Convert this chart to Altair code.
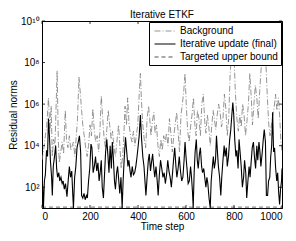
import altair as alt
import pandas as pd

# ---------------- data ----------------
bg_t = [0, 8, 14, 20, 27, 33, 38, 43, 48, 54, 63, 68, 72, 78, 84, 90, 97, 102, 108, 114,
        120, 126, 131, 137, 143, 148, 154, 160, 165, 170, 176, 182, 188, 194, 200, 206, 212,
        218, 224, 230, 236, 241, 247, 252, 258, 264, 270, 276, 282, 288, 294, 300, 306, 312,
        319, 325, 330, 336, 341, 346, 352, 357, 363, 369, 375, 381, 387, 393, 399, 405, 410,
        415, 420, 426, 432, 438, 444, 449, 454, 460, 466, 471, 477, 483, 489, 495, 501, 507,
        513, 519, 525, 531, 537, 543, 549, 555, 561, 567, 573, 579, 585, 591, 596, 601, 607,
        613, 619, 625, 631, 637, 642, 648, 654, 660, 666, 672, 678, 683, 689, 695, 701, 707,
        713, 718, 724, 730, 736, 742, 748, 754, 760, 766, 772, 778, 784, 790, 796, 801, 806,
        812, 818, 824, 830, 836, 842, 848, 854, 860, 866, 872, 877, 883, 889, 895, 901, 907,
        913, 918, 923, 929, 934, 939, 945, 950, 956, 962, 968, 973, 979, 985, 990, 995, 1000]
bg_v = [2e3, 8e3, 3e4, 1e5, 2e6, 5e4, 8e5, 3e3, 2e4, 1e4, 4e7, 2e4, 1.5e3, 5e3, 1.5e4, 4e3,
        5e5, 2e4, 8e3, 3e4, 6e3, 1e4, 1.5e4, 3e3, 3e4, 2e5, 2e7, 3e6, 5e5, 1e5, 3e4, 8e3, 3e3,
        1e4, 1e5, 3e4, 6e5, 5e4, 1.5e4, 3e4, 5e3, 4e4, 2.5e6, 3e5, 3e4, 8e3, 6e4, 5e5, 1e5,
        2e4, 5e4, 8e3, 3e3, 1.5e4, 1e5, 8e3, 8e2, 3e3, 3e4, 8e5, 1e5, 2e6, 1e5, 3e4, 1.5e4,
        5e4, 1e4, 3e4, 1e5, 3e6, 3e7, 1e6, 1e5, 2e4, 8e3, 2e5, 8e5, 2e5, 3e4, 1.5e5, 4e5, 4e4,
        1e5, 1e4, 3e3, 2e4, 6e3, 3e4, 1.5e4, 4e4, 1e4, 2e5, 4e4, 5e3, 3e4, 1e5, 4e5, 5e4, 5e3,
        3e5, 1e6, 5e6, 3e7, 1e6, 5e4, 1.5e4, 8e4, 3e5, 2e6, 1e5, 3e4, 5e5, 2e5, 3e4, 1e6, 3e6,
        1.5e5, 4e4, 3e5, 8e4, 1e4, 8e4, 5e5, 2e5, 6e4, 3e5, 1e6, 4e5, 8e4, 2e5, 3e6, 6e5, 3e4,
        2e5, 3e7, 3e8, 8e8, 1e8, 3e6, 2e5, 5e4, 3e5, 8e4, 1e6, 3e5, 3e4, 1.5e5, 1e6, 3e7, 2e6,
        1e5, 1e6, 8e6, 2e6, 2e5, 4e6, 5e7, 2e8, 5e8, 3e8, 5e7, 2e6, 1e5, 3e4, 1e5, 3e5, 8e5,
        3e6, 5e5, 2e6, 3e5, 2e4, 5e3]

it_t = [0, 3, 6, 10, 14, 19, 23, 27, 31, 35, 40, 43, 47, 52, 57, 61, 65, 70, 74, 79, 84, 88,
        93, 98, 104, 109, 114, 119, 124, 128, 131, 136, 141, 146, 151, 156, 161, 165, 170, 175,
        180, 185, 189, 194, 199, 204, 208, 213, 218, 223, 228, 233, 238, 243, 247, 251, 256,
        260, 265, 270, 275, 279, 284, 289, 293, 297, 302, 306, 311, 315, 320, 324, 329, 334,
        338, 343, 348, 353, 358, 362, 367, 371, 376, 381, 386, 391, 396, 400, 405, 410, 415,
        420, 425, 429, 433, 438, 443, 447, 452, 456, 461, 466, 470, 475, 480, 484, 489, 494,
        499, 504, 509, 514, 519, 524, 529, 534, 539, 544, 548, 553, 558, 562, 567, 572, 577,
        582, 587, 592, 596, 600, 605, 609, 614, 619, 623, 627, 630, 634, 638, 643, 647, 651,
        656, 660, 665, 669, 674, 678, 683, 687, 691, 696, 701, 705, 710, 714, 718, 723, 727,
        731, 735, 740, 745, 749, 754, 759, 763, 768, 772, 777, 782, 786, 791, 795, 799, 803,
        808, 812, 817, 821, 826, 830, 835, 840, 844, 849, 853, 858, 863, 867, 872, 876, 881,
        885, 890, 895, 899, 904, 908, 912, 917, 922, 926, 931, 935, 940, 944, 949, 953, 957,
        961, 965, 969, 973, 978, 982, 986, 990, 994, 998, 1000]
it_v = [300, 100, 10, 200, 400, 6e3, 3e3, 2e5, 3e4, 2e3, 300, 40, 1e3, 3e3, 1e4, 800, 300, 500,
        200, 300, 150, 200, 80, 150, 35, 200, 1e3, 300, 600, 50, 10, 300, 1e3, 8e3, 1.5e4, 3e4,
        5e3, 40, 30, 50, 25, 40, 30, 200, 800, 1.2e4, 8e3, 500, 1e3, 3e3, 600, 1.5e3, 200, 600,
        2e3, 100, 30, 300, 5e3, 2e4, 3e3, 500, 1e4, 800, 1.5e4, 3e3, 200, 80, 500, 1e3, 200,
        50, 300, 10, 200, 3e3, 2.5e4, 5e3, 1e3, 2e3, 600, 300, 1e3, 400, 500, 1e3, 3e3, 8e3,
        3e4, 3e5, 2e4, 3e3, 1e3, 200, 40, 300, 2e3, 4e3, 600, 1.5e3, 4e3, 800, 300, 1e3, 200,
        40, 400, 2e3, 800, 300, 500, 150, 400, 2e3, 600, 300, 100, 500, 2e3, 8e3, 1e3, 300,
        800, 3e3, 600, 200, 300, 2e3, 1.5e4, 3e3, 600, 150, 200, 1e3, 300, 60, 10, 500, 5e3,
        2e4, 2e3, 800, 4e3, 8e3, 1e3, 500, 800, 300, 100, 300, 150, 30, 10, 200, 1e3, 3e3, 800,
        2e3, 3e4, 5e3, 1e3, 300, 40, 300, 2e3, 1e4, 3e3, 8e3, 1e3, 3e3, 2e4, 5e4, 3e5, 1.2e6,
        3e5, 2e4, 3e3, 6e3, 800, 2e4, 4e3, 1e3, 100, 300, 2e3, 500, 30, 200, 1e3, 300, 2e3,
        8e3, 1.5e4, 3e3, 800, 1e4, 2e3, 1.5e4, 5e3, 1e3, 4e3, 2e4, 6e4, 1.5e4, 40, 40, 200,
        300, 3e3, 1e4, 4e5, 5e3, 8e3, 1e3, 200, 500, 60, 15, 80, 200, 800]

tb_t = [0, 1000]
tb_v = [11, 11]

names = ["Background", "Iterative update (final)", "Targeted upper bound"]
x_ticks = [0, 200, 400, 600, 800, 1000]
y_ticks = [1e2, 1e4, 1e6, 1e8, 1e10]

# ---------------- table ----------------
df = pd.concat([
    pd.DataFrame({"t": bg_t, "v": bg_v, "s": names[0]}),
    pd.DataFrame({"t": it_t, "v": it_v, "s": names[1]}),
    pd.DataFrame({"t": tb_t, "v": tb_v, "s": names[2]}),
], ignore_index=True)

W, H = 240, 187
FONT = "Liberation Sans"

xs = alt.Scale(domain=[0, 1000], nice=False, zero=False)
ys = alt.Scale(type="log", domain=[10, 1e10], nice=False)

lab = ("datum.value == 100 ? '10²' : datum.value == 10000 ? '10⁴' : "
       "datum.value == 1000000 ? '10⁶' : datum.value == 100000000 ? '10⁸' : '10¹⁰'")

X = alt.X("t:Q", scale=xs, axis=alt.Axis(values=x_ticks, title="Time step", grid=False,
                                        ticks=False, labelPadding=3, titlePadding=0,
                                        format="d"))
Y = alt.Y("v:Q", scale=ys, axis=alt.Axis(values=y_ticks, labelExpr=lab, title="Residual norms",
                                        grid=False, ticks=False, labelPadding=3,
                                        titlePadding=2))

leg = alt.Legend(title=None, orient="top-right", offset=1, padding=3, fillColor="white",
                 strokeColor="black", symbolType="M-2,0L2,0", symbolSize=110, symbolOffset=7,
                 rowPadding=2, labelFontSize=10, labelFont=FONT, labelLimit=300, labelOffset=9)

color = alt.Color("s:N", scale=alt.Scale(domain=names, range=["#7a7a7a", "#000000", "#8c8c8c"]),
                  legend=leg)
dash = alt.StrokeDash("s:N", scale=alt.Scale(domain=names, range=[[6, 2, 1, 2], [1, 0], [4, 3]]),
                      legend=leg)
sw = alt.StrokeWidth("s:N", scale=alt.Scale(domain=names, range=[0.8, 1.4, 0.8]), legend=leg)

def series(name):
    return (alt.Chart(df).transform_filter(alt.datum.s == name)
            .mark_line(clip=True)
            .encode(x=X, y=Y, color=color, strokeDash=dash, strokeWidth=sw))

# small inside ticks (MATLAB style)
xt = pd.DataFrame({"t": x_ticks})
yt = pd.DataFrame({"v": y_ticks})
tick_b = alt.Chart(xt).mark_rule(color="black", strokeWidth=0.8).encode(
    x=alt.X("t:Q", scale=xs), y=alt.value(H), y2=alt.value(H - 3))
tick_t = alt.Chart(xt).mark_rule(color="black", strokeWidth=0.8).encode(
    x=alt.X("t:Q", scale=xs), y=alt.value(0), y2=alt.value(3))
tick_l = alt.Chart(yt).mark_rule(color="black", strokeWidth=0.8).encode(
    y=alt.Y("v:Q", scale=ys), x=alt.value(0), x2=alt.value(3))
tick_r = alt.Chart(yt).mark_rule(color="black", strokeWidth=0.8).encode(
    y=alt.Y("v:Q", scale=ys), x=alt.value(W), x2=alt.value(W - 3))

chart = (alt.layer(series(names[0]), series(names[2]), series(names[1]),
                   tick_b, tick_t, tick_l, tick_r)
         .properties(width=W, height=H,
                     title=alt.TitleParams("Iterative ETKF", fontSize=10, font=FONT,
                                           fontWeight="normal", offset=0, dy=4),
                     autosize=alt.AutoSizeParams(type="none"),
                     padding={"left": 34, "top": 13, "right": 6, "bottom": 25})
         .configure_view(stroke="black", strokeWidth=1)
         .configure_axis(labelFont=FONT, titleFont=FONT, labelFontSize=10, titleFontSize=10,
                         titleFontWeight="normal", labelColor="black", titleColor="black",
                         domainColor="black", domainWidth=1))

chart.save("out.html", embed_options={"renderer": "svg", "actions": False})
